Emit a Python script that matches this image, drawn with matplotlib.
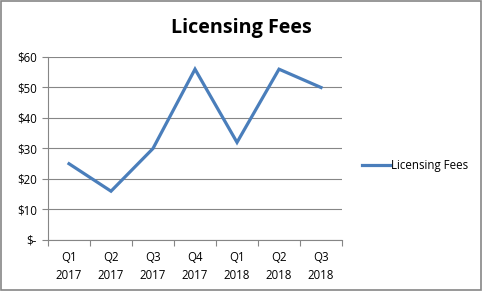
import matplotlib
matplotlib.use("Agg")
import matplotlib.pyplot as plt
from matplotlib.patches import Rectangle

quarters = ["Q1\n2017", "Q2\n2017", "Q3\n2017", "Q4\n2017",
            "Q1\n2018", "Q2\n2018", "Q3\n2018"]
fees = [25, 16, 30, 56, 32, 56, 50]
yticks = [0, 10, 20, 30, 40, 50, 60]
ylabels = ["$-", "$10", "$20", "$30", "$40", "$50", "$60"]

plt.rcParams["font.family"] = ["Open Sans", "DejaVu Sans"]

fig = plt.figure(figsize=(4.83, 2.91), dpi=100)
ax = fig.add_axes([0.0994, 0.1753, 0.6087, 0.6289])

xs = range(len(fees))
ax.plot(xs, fees, color="#4A7EBB", linewidth=2.3, label="Licensing Fees",
        solid_joinstyle="miter")

ax.set_xlim(-0.5, len(fees) - 0.5)
ax.set_ylim(0, 60)
ax.set_yticks(yticks)
ax.set_yticklabels(ylabels, fontsize=8.3)
ax.set_xticks([i + 0.5 for i in range(-1, len(fees))], minor=False)
ax.set_xticklabels([])
ax.set_xticks(list(xs), minor=True)
ax.set_xticklabels(quarters, minor=True, fontsize=8.3, linespacing=1.5)
ax.tick_params(axis="x", which="minor", length=0, pad=8)
ax.tick_params(axis="x", which="major", length=4, color="#868686")
ax.tick_params(axis="y", length=4, color="#868686", pad=4)
ax.grid(axis="y", color="#868686", linewidth=0.8)
ax.set_axisbelow(True)
for s in ["top", "right"]:
    ax.spines[s].set_visible(False)
for s in ["left", "bottom"]:
    ax.spines[s].set_color("#868686")
    ax.spines[s].set_linewidth(0.8)

fig.text(0.5, 0.905, "Licensing Fees", ha="center", va="center",
         fontsize=14.2, fontweight="bold")
fig.legend(loc="center left", bbox_to_anchor=(0.728, 0.43), frameon=False,
           fontsize=8.3, handlelength=2.4, handletextpad=0.1)

fig.patches.append(Rectangle((0.002, 0.003), 0.994, 0.993, transform=fig.transFigure,
                             fill=False, edgecolor="#868686", linewidth=1.2))

fig.savefig("out.png", dpi=100)
